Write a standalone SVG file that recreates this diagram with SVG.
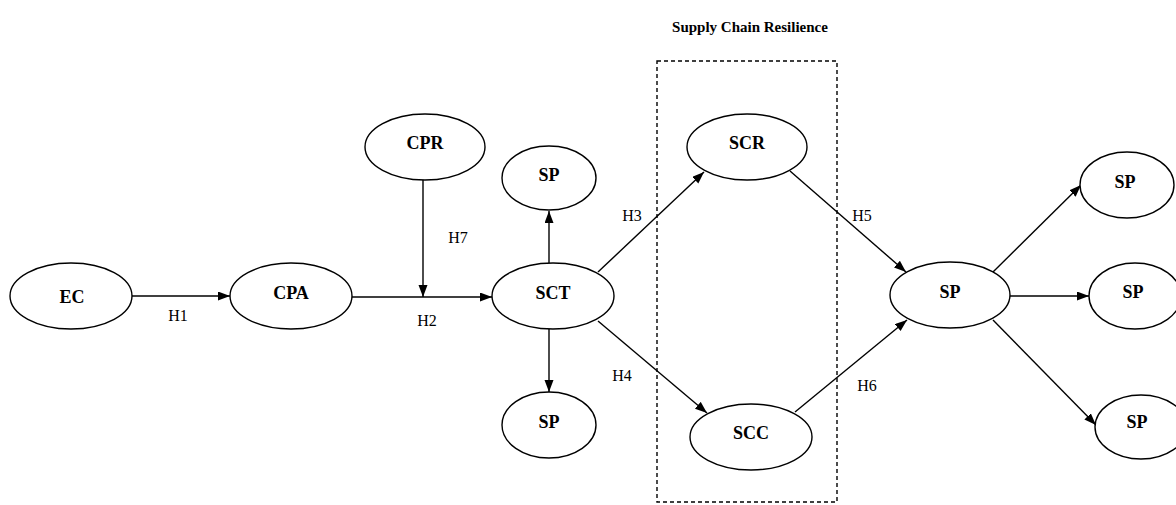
<svg xmlns="http://www.w3.org/2000/svg" width="1176" height="505" viewBox="0 0 1176 505">
  <style>
    .node ellipse { fill: #ffffff; stroke: #000000; stroke-width: 1.4; }
    .node text { font-family: "Liberation Serif", "Times New Roman", serif; font-weight: bold; font-size: 18px; fill: #000000; text-anchor: middle; }
    .edge { stroke: #000000; stroke-width: 1.4; fill: none; marker-end: url(#arrow); }
    .lbl { font-family: "Liberation Serif", "Times New Roman", serif; font-size: 16px; fill: #000000; text-anchor: middle; }
    .title { font-family: "Liberation Serif", "Times New Roman", serif; font-weight: bold; font-size: 15px; fill: #000000; text-anchor: middle; }
    .frame { fill: none; stroke: #000000; stroke-width: 1.4; stroke-dasharray: 4 3; }
  </style>
  <defs>
    <marker id="arrow" markerUnits="userSpaceOnUse" markerWidth="13" markerHeight="10" refX="12" refY="4.5" orient="auto">
      <path d="M0,0 L12,4.5 L0,9 z" fill="#000000"/>
    </marker>
  </defs>
  <rect width="1176" height="505" fill="#ffffff"/>

  <!-- resilience grouping frame -->
  <g id="resilience-frame">
    <text class="title" x="750" y="32">Supply Chain Resilience</text>
    <rect class="frame" x="657" y="61" width="180" height="441"/>
  </g>

  <!-- connectors -->
  <g id="connectors">
    <line class="edge" x1="132" y1="296" x2="230" y2="296"/>
    <line class="edge" x1="352" y1="297" x2="492" y2="297"/>
    <line class="edge" x1="423" y1="180" x2="423" y2="297"/>
    <line class="edge" x1="549" y1="263" x2="549" y2="211"/>
    <line class="edge" x1="549" y1="329" x2="549" y2="392"/>
    <line class="edge" x1="598" y1="272" x2="704" y2="172"/>
    <line class="edge" x1="598" y1="321" x2="707" y2="413"/>
    <line class="edge" x1="790" y1="171" x2="906" y2="272"/>
    <line class="edge" x1="795" y1="412" x2="907" y2="320"/>
    <line class="edge" x1="993" y1="272" x2="1081" y2="185"/>
    <line class="edge" x1="1010" y1="296" x2="1089" y2="296"/>
    <line class="edge" x1="993" y1="320" x2="1096" y2="425"/>
    <text class="lbl" x="178" y="321">H1</text>
    <text class="lbl" x="427" y="326">H2</text>
    <text class="lbl" x="458" y="243">H7</text>
    <text class="lbl" x="632" y="221">H3</text>
    <text class="lbl" x="622" y="381">H4</text>
    <text class="lbl" x="862" y="221">H5</text>
    <text class="lbl" x="867" y="391">H6</text>
  </g>

  <!-- nodes -->
  <g id="EC" class="node"><ellipse cx="71" cy="296" rx="61" ry="33"/><text x="72" y="303">EC</text></g>
  <g id="CPA" class="node"><ellipse cx="291" cy="296" rx="61" ry="33"/><text x="291" y="299">CPA</text></g>
  <g id="CPR" class="node"><ellipse cx="425" cy="147" rx="60" ry="33"/><text x="425" y="149">CPR</text></g>
  <g id="SP-upper" class="node"><ellipse cx="549" cy="178" rx="47" ry="32"/><text x="549" y="181">SP</text></g>
  <g id="SCT" class="node"><ellipse cx="553" cy="296" rx="61" ry="33"/><text x="553" y="299">SCT</text></g>
  <g id="SP-lower" class="node"><ellipse cx="549" cy="425" rx="47" ry="33"/><text x="549" y="428">SP</text></g>
  <g id="SCR" class="node"><ellipse cx="747" cy="147" rx="60" ry="33"/><text x="747" y="149">SCR</text></g>
  <g id="SCC" class="node"><ellipse cx="751" cy="437" rx="61" ry="33"/><text x="751" y="439">SCC</text></g>
  <g id="SP-main" class="node"><ellipse cx="950" cy="295" rx="60" ry="33"/><text x="950" y="298">SP</text></g>
  <g id="SP-out-1" class="node"><ellipse cx="1127" cy="185" rx="47" ry="33"/><text x="1125" y="188">SP</text></g>
  <g id="SP-out-2" class="node"><ellipse cx="1135" cy="296" rx="46" ry="33"/><text x="1133" y="298">SP</text></g>
  <g id="SP-out-3" class="node"><ellipse cx="1141" cy="427" rx="46" ry="32"/><text x="1137" y="428">SP</text></g>
</svg>
